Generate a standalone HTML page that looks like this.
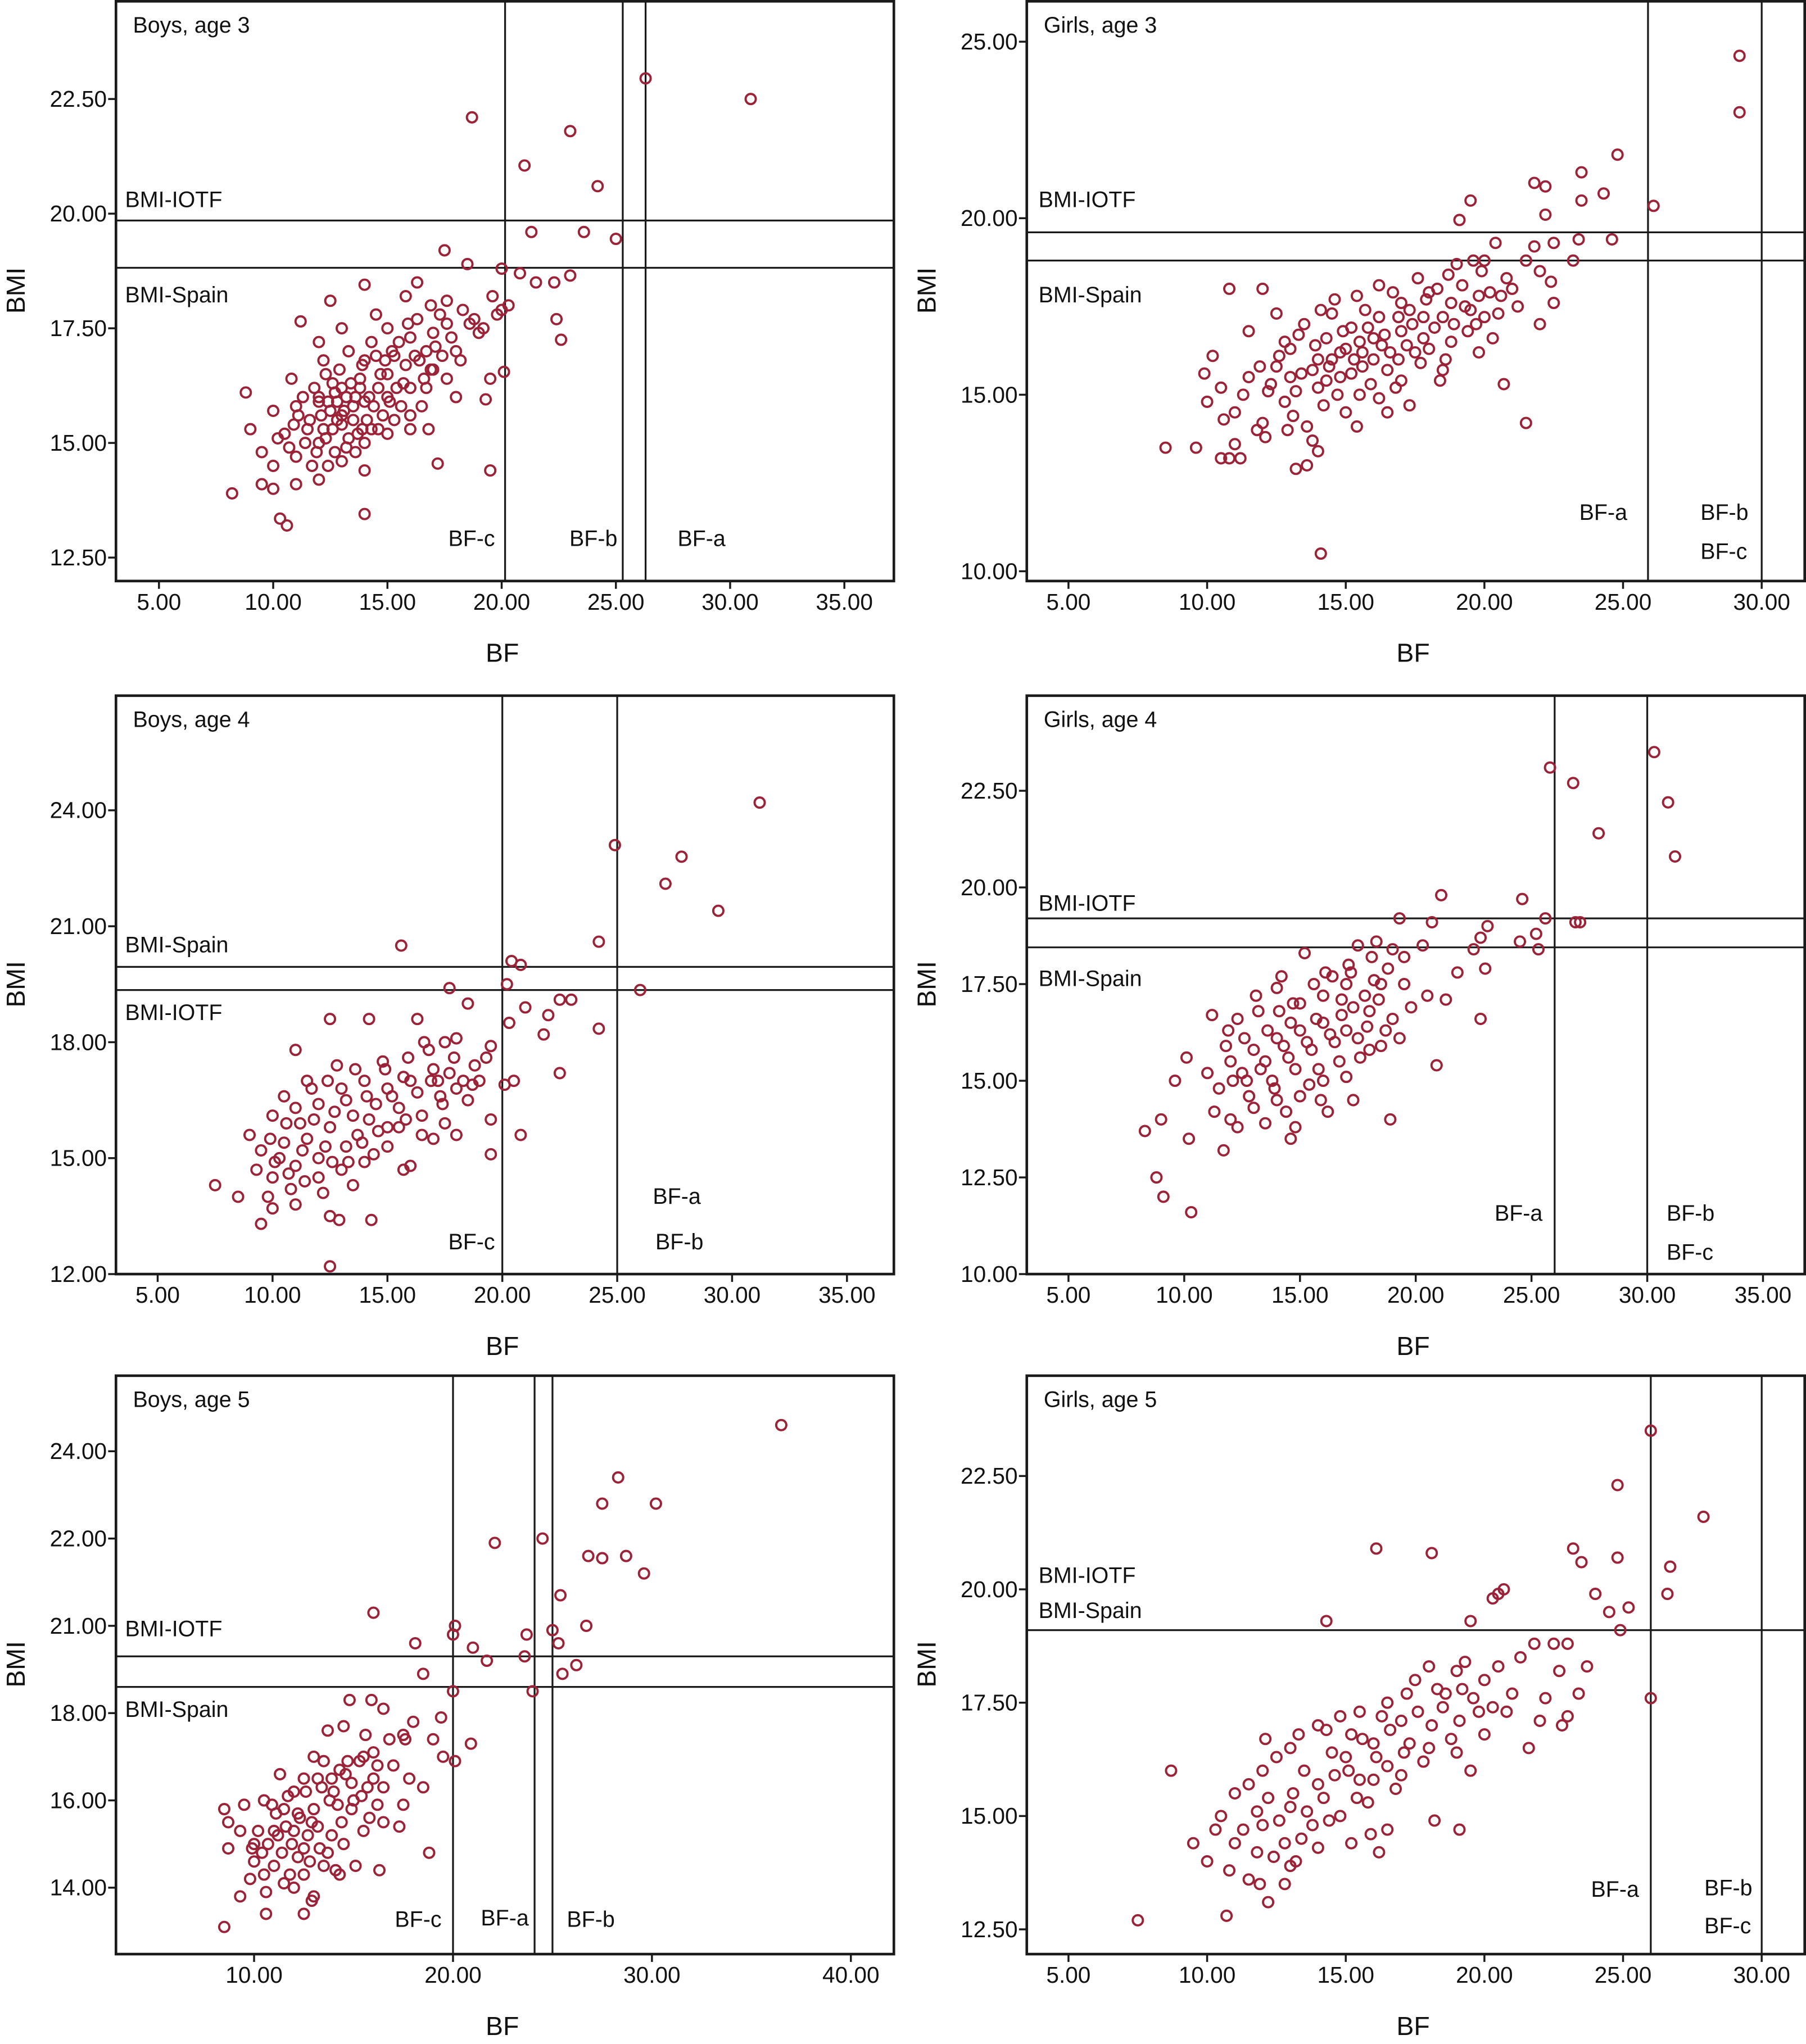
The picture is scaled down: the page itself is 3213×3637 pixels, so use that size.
<!DOCTYPE html>
<html><head><meta charset="utf-8">
<style>
html,body{margin:0;padding:0;background:#fff;}
svg{display:block;}
text{font-family:"Liberation Sans Narrow","Liberation Sans",sans-serif;fill:#111;}
.tk{font-size:17.5px;}
.lab{font-size:17px;}
.ttl{font-family:"Liberation Sans",sans-serif;font-size:20px;}
</style></head>
<body>
<svg id="fig" width="3213" height="3637" viewBox="0 0 1386 1569" preserveAspectRatio="none" xmlns="http://www.w3.org/2000/svg"></svg>
<script>
// ---------- data (BF %, BMI) ----------
const boys3 = [[18.7,22.1],[21,21.05],[23,21.8],[26.3,22.95],[30.9,22.5],[24.2,20.6],[21.3,19.6],[23.6,19.6],[25,19.45],[23,18.65],[22.3,18.5],[20,18.8],[20.8,18.7],[22.4,17.7],[22.6,17.25],[20.1,16.55],[19.5,16.4],[19.3,15.95],[19.5,14.4],[17.2,14.55],[14,13.45],[10.3,13.35],[10.6,13.2],[8.2,13.9],[8.8,16.1],[11.2,17.65],[14,18.45],[16.3,18.5],[17.5,19.2],[18.5,18.9],[17.6,18.1],[18.8,17.7],[17,17.4],[16,17.3],[15,17.5],[13,17.5],[12.5,18.1],[12,17.2],[15.8,18.2],[14.5,17.8],[16.9,16.6],[18,16],[16.5,15.8],[15,16.5],[14,16.8],[13,16.2],[12,16],[11,15.8],[10,15.7],[9,15.3],[9.5,14.8],[10,14.5],[11,14.7],[12,15],[13,15.4],[14,15.9],[15,16],[16,16.2],[17,16.6],[18,17],[19,17.4],[20,17.9],[20.3,18.0],[19.8,17.8],[21.5,18.5],[13,14.6],[12,14.2],[11,14.1],[10,14],[9.5,14.1],[14,14.4],[15,15.2],[16,15.3],[13.5,15.5],[12.5,15.7],[11.5,15.3],[10.5,15.2],[12.3,16.5],[13.8,16.4],[15.3,16.9],[16.7,17.0],[17.6,16.4],[18.3,17.9],[19.2,17.5],[14.8,15.6],[13.2,14.9],[12.8,15.9],[11.8,16.2],[10.8,16.4],[15.6,15.8],[16.8,15.3],[17.3,17.8],[14.3,17.2],[13.3,17.0],[12.2,16.8],[12.6,15.3],[13.6,16.0],[14.6,16.2],[11.4,15.0],[12.9,16.6]];
const boys3b = [[12.1,15.6],[12.4,15.9],[12.7,16.1],[13.1,15.7],[13.4,16.3],[13.7,15.2],[14.1,15.5],[14.4,15.8],[14.7,16.5],[15.1,15.9],[15.4,16.2],[15.8,16.7],[16.2,16.9],[16.6,16.4],[17.1,17.1],[17.4,16.9],[11.6,15.5],[11.9,14.8],[12.3,15.1],[12.7,14.8],[13.3,15.1],[13.9,15.3],[14.2,16.0],[14.9,16.8],[15.5,17.2],[16.3,17.7],[16.9,18.0],[17.8,17.3],[18.6,17.6],[19.6,18.2],[10.9,15.4],[11.3,16.0],[12.0,15.9],[12.6,16.3],[13.2,16.0],[13.9,16.7],[14.5,16.9],[15.2,17.0],[15.9,17.6],[16.4,16.8],[10.2,15.1],[10.7,14.9],[11.1,15.6],[11.7,14.5],[12.4,14.5],[13.6,14.8],[14.3,15.3],[15.7,16.3],[16.0,15.6],[17.6,17.6],[13.0,15.6],[13.5,15.8],[14.0,15.0],[14.6,15.3],[15.3,15.5],[12.2,15.3],[12.8,15.5],[13.8,16.2],[16.7,16.2],[18.2,16.8]];
const girls3 = [[29.2,24.6],[29.2,23.0],[26.1,20.35],[24.8,21.8],[23.5,21.3],[24.3,20.7],[23.5,20.5],[21.8,21.0],[22.2,20.9],[22.2,20.1],[19.5,20.5],[19.1,19.95],[24.6,19.4],[23.4,19.4],[22.5,19.3],[23.2,18.8],[22.4,18.2],[22,17.0],[22.5,17.6],[21.5,14.2],[14.1,10.5],[8.5,13.5],[9.6,13.5],[10.5,13.2],[10.8,13.2],[11.2,13.2],[13.2,12.9],[13.6,13],[10.8,18],[12,18],[16.2,18.1],[19,18.7],[20,18.8],[21,18],[22,18.5],[20.5,17.3],[19.5,17.4],[19.8,16.2],[18.5,15.7],[18.4,15.4],[20.7,15.3],[17.3,14.7],[16.5,14.5],[15,14.5],[14,13.4],[12,14.2],[11,14.5],[10,14.8],[9.9,15.6],[10.2,16.1],[10.5,15.2],[11.5,15.5],[12.5,15.8],[13,16.3],[14,16],[14.8,16.2],[15.5,16.5],[16.3,16.4],[17,16.8],[17.8,17.2],[18.5,17.2],[19.3,17.5],[20,17.2],[21.2,17.5],[11.5,16.8],[12.5,17.3],[13.5,17],[14.5,17.3],[15.4,17.8],[16.2,17.2],[17,17.6],[18,17.9],[13.2,15.1],[14,15.2],[14.8,15.5],[15.6,15.8],[16.5,15.7],[17.5,16.2],[13.1,14.4],[12.2,15.1],[11.8,14.0],[15.5,15.0],[16,16.0],[14.3,16.6],[12.8,16.5],[17.8,16.6],[18.8,16.5],[19.8,17.8],[21.8,19.2],[19.6,18.8],[20.4,19.3],[15.2,16.9],[13.8,15.7],[16.8,15.2],[18.2,16.9]];
const girls3b = [[13.4,15.6],[13.9,16.4],[14.4,15.8],[14.9,16.8],[15.3,16.0],[15.8,16.9],[16.4,16.7],[16.9,17.2],[17.4,17.0],[17.9,17.7],[18.3,18.0],[18.8,17.6],[19.2,18.1],[20.2,17.9],[20.8,18.3],[12.3,15.3],[12.8,14.8],[13.6,14.1],[14.2,14.7],[14.7,15.0],[15.2,15.6],[15.9,15.3],[16.6,16.2],[17.2,16.4],[17.7,15.9],[18.6,16.0],[19.4,16.8],[20.3,16.6],[11.3,15.0],[11.9,15.8],[12.6,16.1],[13.3,16.7],[14.1,17.4],[14.6,17.7],[15.7,17.4],[16.7,17.9],[17.6,18.3],[18.7,18.4],[19.9,18.5],[21.5,18.8],[10.6,14.3],[11.0,13.6],[12.1,13.8],[12.9,14.0],[13.8,13.7],[15.4,14.1],[16.2,14.9],[17.0,15.4],[14.5,16.0],[15.0,16.3],[16.0,16.6],[16.9,16.0],[18.0,16.3],[18.9,17.0],[19.7,17.0],[20.6,17.8],[13.0,15.5],[14.3,15.4],[15.6,16.2],[17.3,17.4]];
const boys4 = [[31.2,24.2],[24.9,23.1],[27.8,22.8],[27.1,22.1],[29.4,21.4],[24.2,20.6],[15.6,20.5],[20.4,20.1],[20.8,20.0],[20.2,19.5],[26,19.35],[17.7,19.4],[18.5,19.0],[21,18.9],[22.5,19.1],[23,19.1],[22,18.7],[24.2,18.35],[21.8,18.2],[20.3,18.5],[20.5,17],[22.5,17.2],[20.8,15.6],[19.5,15.1],[12.5,12.2],[14.3,13.4],[12.5,13.5],[7.5,14.3],[8.5,14],[9.5,13.3],[10,13.7],[11,13.8],[12.9,13.4],[11,17.8],[12.5,18.6],[14.2,18.6],[16.3,18.6],[18,18.1],[17.5,18],[19,17],[18,16.8],[17,17.3],[16,17],[15,16.8],[14,17],[13,16.8],[12,16.4],[11,16.3],[10,16.1],[9,15.6],[9.5,15.2],[10.5,15.4],[11.5,15.5],[12.5,15.8],[13.5,16.1],[14.5,16.4],[15.5,16.3],[16.5,16.1],[17.5,15.9],[18.5,16.5],[19.5,16.0],[10,14.5],[11,14.8],[12,14.5],[13,14.7],[14,14.9],[15,15.3],[16,14.8],[17,15.5],[18,15.6],[9.8,14.0],[10.8,14.2],[12.2,14.1],[13.5,14.3],[15.5,15.8],[12.8,17.4],[14.8,17.5],[16.8,17.8],[19.5,17.9],[11.5,17.0],[13.2,15.3],[14.2,16.0],[17.4,16.4],[18.8,17.4],[20.1,16.9],[15.7,14.7],[11.2,15.9],[10.3,15.0]];
const boys4b = [[10.6,15.9],[11.3,15.2],[11.8,16.0],[12.3,15.3],[12.7,16.2],[13.2,16.5],[13.7,15.6],[14.1,16.6],[14.6,15.7],[15.2,16.6],[15.7,17.1],[16.3,16.7],[16.9,17.0],[17.7,17.2],[18.3,17.0],[10.1,14.9],[10.7,14.6],[11.4,14.4],[12.0,15.0],[12.6,14.9],[13.3,14.9],[13.9,15.4],[14.4,15.1],[15.0,15.8],[15.8,16.0],[16.5,15.6],[17.3,16.6],[17.9,17.6],[18.7,16.9],[19.3,17.6],[9.3,14.7],[9.9,15.5],[10.5,16.6],[11.7,16.8],[12.4,17.0],[13.6,17.3],[14.9,17.3],[15.9,17.6],[16.6,18.0],[17.2,17.0]];
const girls4 = [[25.8,23.1],[30.3,23.5],[26.8,22.7],[30.9,22.2],[31.2,20.8],[27.9,21.4],[26.9,19.1],[27.1,19.1],[25.6,19.2],[24.6,19.7],[25.2,18.8],[25.3,18.4],[24.5,18.6],[21.1,19.8],[19.3,19.2],[20.7,19.1],[20.3,18.5],[22.8,18.7],[23.1,19.0],[22.5,18.4],[21.8,17.8],[23,17.9],[20.5,17.2],[21.3,17.1],[22.8,16.6],[20.9,15.4],[18.9,14.0],[17.3,14.5],[14.6,13.5],[11.7,13.2],[10.3,11.6],[8.8,12.5],[9.1,12.0],[8.3,13.7],[9,14],[9.6,15.0],[10.1,15.6],[10.2,13.5],[11.2,16.7],[12.3,16.6],[14.2,17.7],[15.2,18.3],[16,17.2],[17,17.5],[17.5,18.5],[18.3,18.6],[19,18.4],[18.5,17.5],[19.5,17.5],[18,16.8],[17,16.3],[16,16.5],[15,16.3],[14,16.1],[13,15.8],[12,15.5],[11,15.2],[11.5,14.8],[12.5,15.2],[13.5,15.5],[14.5,15.6],[15.5,15.8],[16.5,16.0],[17.5,16.1],[18.5,15.9],[12,14.0],[13,14.3],[14,14.5],[15,14.6],[16,15.0],[17,15.1],[18,15.8],[12.3,13.8],[13.5,13.9],[14.8,13.8],[16.2,14.2],[11.8,15.9],[13.2,16.8],[14.7,17.0],[16.8,17.1],[19,16.6],[17.8,17.2],[15.8,15.3],[19.8,16.9]];
const girls4b = [[12.7,15.0],[13.3,15.3],[13.8,15.0],[14.3,15.9],[14.8,15.3],[15.3,16.0],[15.7,16.6],[16.3,16.2],[16.8,16.7],[17.3,16.9],[17.9,16.4],[18.4,17.1],[18.8,17.9],[13.6,16.3],[14.1,16.8],[14.6,16.5],[15.6,17.5],[16.4,17.7],[17.1,18.0],[18.1,18.2],[12.1,15.0],[12.8,14.6],[13.9,14.8],[14.4,14.2],[15.4,14.9],[15.9,14.5],[16.7,15.5],[17.6,15.6],[18.7,16.3],[19.3,16.1],[11.3,14.2],[11.9,16.3],[12.6,16.1],[13.1,17.2],[14.0,17.4],[15.0,17.0],[16.1,17.8],[17.2,17.8],[18.2,17.6],[19.5,18.2]];
const boys5 = [[36.5,24.6],[28.3,23.4],[27.5,22.8],[30.2,22.8],[24.5,22.0],[22.1,21.9],[26.8,21.6],[27.5,21.55],[28.7,21.6],[29.6,21.2],[25.4,20.7],[16,20.3],[20.1,20.0],[20.0,19.8],[18.1,19.6],[21.0,19.5],[21.7,19.2],[23.6,19.3],[23.7,19.8],[26.7,20.0],[25.3,19.6],[25.0,19.9],[25.5,18.9],[26.2,19.1],[24.0,18.5],[20.0,18.5],[18.5,18.9],[20.9,17.3],[19.5,17.0],[20.1,16.9],[19.0,17.4],[18.8,14.8],[16.3,14.4],[12.5,13.4],[12.9,13.7],[8.5,13.1],[9.3,13.8],[10.6,13.4],[8.7,14.9],[8.7,15.5],[10,15.0],[11,15.3],[11.5,15.8],[12,16.2],[12.5,16.5],[13,17.0],[13.7,17.6],[14.8,18.3],[15.9,18.3],[16.5,18.1],[17.5,17.5],[18,17.8],[17,16.8],[16,16.5],[15,16.0],[14,16.2],[13,15.8],[12,15.3],[11,14.5],[10.5,14.3],[10,14.6],[11.5,14.1],[12.5,14.3],[13.5,14.5],[14.5,15.0],[15.5,15.3],[16.5,15.5],[17.5,15.9],[18.5,16.3],[8.5,15.8],[9.5,15.9],[10.5,16.0],[11.3,16.6],[12.5,14.9],[13.5,16.9],[14.5,17.7],[15.5,17.0],[16.5,16.3],[17.8,16.5],[13.2,15.4],[12.2,15.7],[14.2,15.9],[15.8,15.6],[17.3,15.4],[11.2,15.2],[9.8,14.2],[13.0,13.8],[14.1,14.4],[10.6,13.9],[14.6,16.6],[16.0,17.1],[17.6,17.4],[19.4,17.9]];
const boys5b = [[11.6,15.4],[11.9,15.0],[12.3,15.6],[12.7,15.2],[12.9,15.5],[13.4,16.3],[13.8,16.0],[14.3,16.7],[14.9,16.4],[15.3,16.9],[15.7,16.3],[16.2,16.8],[11.1,15.7],[11.4,14.8],[11.8,14.3],[12.2,14.7],[12.8,14.6],[13.3,14.9],[13.9,15.2],[14.4,15.5],[14.9,15.8],[15.4,16.1],[10.2,15.3],[10.7,15.0],[10.9,15.9],[11.7,16.1],[12.6,16.2],[13.2,16.5],[13.9,16.5],[14.7,16.9],[15.6,17.5],[16.8,17.4],[9.3,15.3],[9.9,14.9],[10.4,14.8],[12.0,14.0],[13.7,14.8],[14.3,14.3],[15.1,14.5],[16.2,15.9]];
const girls5 = [[26,23.5],[24.8,22.3],[27.9,21.6],[26.7,20.5],[26.6,19.9],[24.8,20.7],[23.2,20.9],[23.5,20.6],[24,19.9],[24.5,19.5],[25.2,19.6],[24.9,19.1],[20.7,20],[20.5,19.9],[20.3,19.8],[16.1,20.9],[18.1,20.8],[14.3,19.3],[19.5,19.3],[21.8,18.8],[22.5,18.8],[23,18.8],[23.7,18.3],[21.3,18.5],[22.7,18.2],[22.2,17.6],[23.4,17.7],[26,17.6],[22,17.1],[22.8,17.0],[23,17.2],[21.6,16.5],[20,16.8],[19.5,16.0],[19.1,14.7],[18.2,14.9],[16.5,14.7],[12.8,13.5],[12.2,13.1],[11.5,13.6],[10.7,12.8],[7.5,12.7],[8.7,16.0],[9.5,14.4],[10,14.0],[10.5,15.0],[11,15.5],[11.5,15.7],[12,16.0],[12.5,16.3],[13,16.5],[14,17.0],[14.8,17.2],[15.5,17.3],[16.5,17.5],[17.5,18.0],[18,18.3],[19,18.2],[20,18.0],[21,17.7],[17,17.1],[16,16.6],[15,16.3],[14,15.7],[13,15.2],[12,14.8],[11,14.4],[10.3,14.7],[11.8,14.2],[12.8,14.4],[13.8,14.8],[14.8,15.0],[15.8,15.3],[16.8,15.6],[17.8,16.2],[18.8,16.7],[19.8,17.3],[15.5,15.8],[16.5,16.1],[13.5,16.0],[14.5,16.4],[17.3,16.6],[18.5,17.4],[15.2,14.4],[12.2,15.4],[13.2,14.0],[16.2,14.2],[19.2,17.8],[20.5,18.3]];
const girls5b = [[12.6,14.9],[13.1,15.5],[13.6,15.1],[14.2,15.4],[14.6,15.9],[15.1,16.0],[15.6,16.7],[16.1,16.3],[16.6,16.9],[17.1,16.4],[17.6,17.3],[18.1,17.0],[18.6,17.7],[19.1,17.1],[19.6,17.6],[20.3,17.4],[11.3,14.7],[11.8,15.1],[12.4,14.1],[13.4,14.5],[14.0,14.3],[14.4,14.9],[15.4,15.4],[16.0,15.8],[17.0,15.9],[18.0,16.5],[19.0,16.4],[12.1,16.7],[13.3,16.8],[14.3,16.9],[15.2,16.8],[16.3,17.2],[17.2,17.7],[18.3,17.8],[19.3,18.4],[20.8,17.3],[10.8,13.8],[11.9,13.5],[13.0,13.9],[15.9,14.6]];

// ---------- axis ticks ----------
const xTicksA = [5,10,15,20,25,30,35];
const xTicksB = [5,10,15,20,25,30];
const xTicksC = [10,20,30,40];
const yTicksBoys3 = [12.5,15,17.5,20,22.5];
const yTicksGirls3 = [10,15,20,25];
const yTicksBoys4 = [12,15,18,21,24];
const yTicksGirls4 = [10,12.5,15,17.5,20,22.5];
const yTicksBoys5 = [14,16,18,20,22,24];
const yLabelsBoys5 = ["14.00","16.00","18.00","21.00","22.00","24.00"];
const yTicksGirls5 = [12.5,15,17.5,20,22.5];

// ---------- cut-off lines ----------
const cutBoys3 = {bf:[20.15,25.3,26.3], bmi:[19.85,18.82]};
const cutGirls3 = {bf:[25.9,30], bmi:[19.6,18.8]};
const cutBoys4 = {bf:[20,25], bmi:[19.95,19.35]};
const cutGirls4 = {bf:[26,30], bmi:[19.2,18.45]};
const cutBoys5 = {bf:[20,24.1,25], bmi:[19.3,18.6]};
const cutGirls5 = {bf:[26,30], bmi:[19.1]};

const svg = document.getElementById('fig');
const NS = 'http://www.w3.org/2000/svg';
function mk(tag, attrs, parent){
  const e = document.createElementNS(NS, tag);
  for (const k in attrs) e.setAttribute(k, attrs[k]);
  (parent||svg).appendChild(e); return e;
}
function lin(d0,p0,d1,p1){ return v => p0 + (v-d0)*(p1-p0)/(d1-d0); }

const panels = [
 {id:'boys-3', title:'Boys, age 3', L:89,T:0,R:686,B:446, xs:lin(5,122,35,648), ys:lin(15,340,22.5,76), xt:xTicksA, yt:yTicksBoys3, yl:null, data:boys3.concat(boys3b), cut:cutBoys3,
  labels:[['BMI-IOTF',96,159],['BMI-Spain',96,232],['BF-c',344,419],['BF-b',437,419],['BF-a',520,419]]},
 {id:'girls-3', title:'Girls, age 3', L:788,T:0,R:1385,B:446, xs:lin(5,820,30,1352), ys:lin(15,303,25,32), xt:xTicksB, yt:yTicksGirls3, yl:null, data:girls3.concat(girls3b), cut:cutGirls3,
  labels:[['BMI-IOTF',797,159],['BMI-Spain',797,232],['BF-a',1212,399],['BF-b',1305,399],['BF-c',1305,429]]},
 {id:'boys-4', title:'Boys, age 4', L:89,T:533,R:686,B:978, xs:lin(5,121,35,650), ys:lin(12,978,24,622), xt:xTicksA, yt:yTicksBoys4, yl:null, data:boys4.concat(boys4b), cut:cutBoys4,
  labels:[['BMI-Spain',96,731],['BMI-IOTF',96,783],['BF-a',501,924],['BF-b',503,959],['BF-c',344,959]]},
 {id:'girls-4', title:'Girls, age 4', L:788,T:533,R:1385,B:978, xs:lin(5,820,35,1353), ys:lin(10,978,22.5,607), xt:xTicksA, yt:yTicksGirls4, yl:null, data:girls4.concat(girls4b), cut:cutGirls4,
  labels:[['BMI-IOTF',797,699],['BMI-Spain',797,757],['BF-a',1147,937],['BF-b',1279,937],['BF-c',1279,967]]},
 {id:'boys-5', title:'Boys, age 5', L:89,T:1055,R:686,B:1500, xs:lin(10,195,40,653), ys:lin(14,1449,24,1114), xt:xTicksC, yt:yTicksBoys5, yl:yLabelsBoys5, data:boys5.concat(boys5b), cut:cutBoys5,
  labels:[['BMI-IOTF',96,1256],['BMI-Spain',96,1318],['BF-c',303,1479],['BF-a',369,1478],['BF-b',435,1479]]},
 {id:'girls-5', title:'Girls, age 5', L:788,T:1055,R:1385,B:1500, xs:lin(5,820,30,1352), ys:lin(12.5,1481,22.5,1133), xt:xTicksB, yt:yTicksGirls5, yl:null, data:girls5.concat(girls5b), cut:cutGirls5,
  labels:[['BMI-IOTF',797,1215],['BMI-Spain',797,1242],['BF-a',1221,1456],['BF-b',1308,1455],['BF-c',1308,1484]]}
];

panels.forEach(p => {
  const g = mk('g', {});
  
  
  const clipId = 'clip-' + p.id;
  const cp = mk('clipPath', {id:clipId}, g);
  mk('rect', {x:p.L, y:p.T, width:p.R-p.L, height:p.B-p.T}, cp);

  p.cut.bf.forEach(v => {
    const l = mk('line', {x1:p.xs(v), x2:p.xs(v), y1:p.T, y2:p.B, stroke:'#1a1a1a', 'stroke-width':1.4}, g);
    
    
  });
  p.cut.bmi.forEach(v => {
    const l = mk('line', {x1:p.L, x2:p.R, y1:p.ys(v), y2:p.ys(v), stroke:'#1a1a1a', 'stroke-width':1.4}, g);
    
    
  });

  const pg = mk('g', {'clip-path':'url(#'+clipId+')'}, g);
  
  
  p.data.forEach(d => {
    const c = mk('circle', {cx:p.xs(d[0]), cy:p.ys(d[1]), r:3.9, fill:'none', stroke:'#9b2237', 'stroke-width':1.7}, pg);
    
    
  });

  const fr = mk('rect', {x:p.L, y:p.T+1, width:p.R-p.L, height:p.B-p.T-1, fill:'none', stroke:'#1a1a1a', 'stroke-width':2}, g);
  
  

  p.xt.forEach(v => {
    const x = p.xs(v);
    mk('line', {x1:x, x2:x, y1:p.B, y2:p.B+6, stroke:'#1a1a1a', 'stroke-width':1.5}, g);
    const t = mk('text', {x:x, y:p.B+22, 'text-anchor':'middle', class:'tk'}, g);
    t.textContent = v.toFixed(2);
    
    
  });
  p.yt.forEach((v,i) => {
    const y = p.ys(v);
    mk('line', {x1:p.L-6, x2:p.L, y1:y, y2:y, stroke:'#1a1a1a', 'stroke-width':1.5}, g);
    const t = mk('text', {x:p.L-7, y:y+6, 'text-anchor':'end', class:'tk'}, g);
    t.textContent = p.yl ? p.yl[i] : v.toFixed(2);
    
    
  });

  const tt = mk('text', {x:p.L+13, y:p.T+25, class:'lab'}, g);
  tt.textContent = p.title;
  
  
  p.labels.forEach(l => {
    const t = mk('text', {x:l[1], y:l[2], class:'lab'}, g);
    t.textContent = l[0];
    
    
  });

  const xt = mk('text', {x:(p.L+p.R)/2 - 2, y:p.B+62, 'text-anchor':'middle', class:'ttl'}, g);
  xt.textContent = 'BF';
  
  
  const ym = (p.T+p.B)/2;
  const yt = mk('text', {x:p.L-70, y:ym, 'text-anchor':'middle', class:'ttl', transform:'rotate(-90 '+(p.L-70)+' '+ym+')'}, g);
  yt.textContent = 'BMI';
  
  
});
</script>
</body></html>
